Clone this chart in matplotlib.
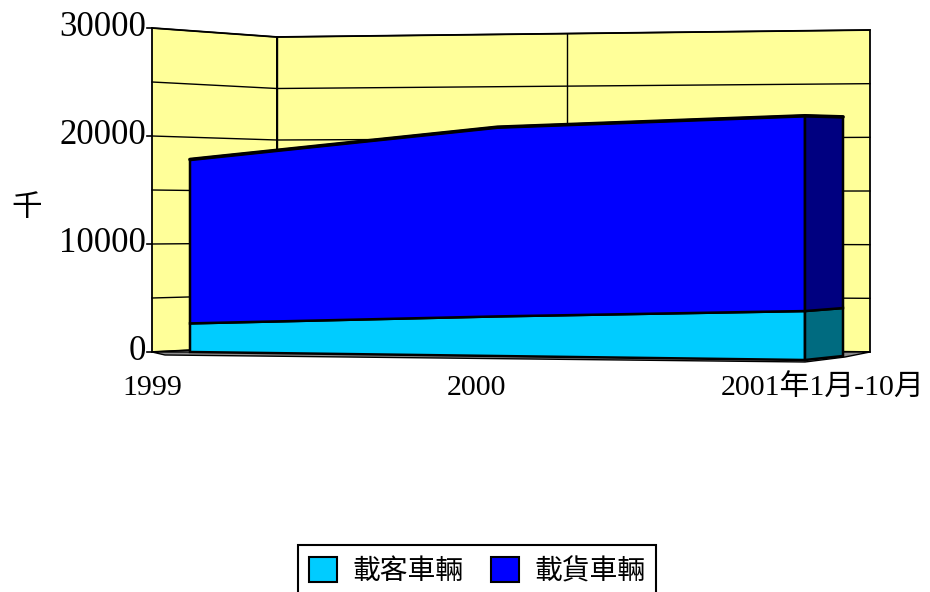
import matplotlib
matplotlib.use('Agg')
import matplotlib.pyplot as plt
from matplotlib.patches import Polygon, Patch
import numpy as np

# vehicle counts, thousands
categories = ['1999', '2000', '2001年1月-10月']
passenger = [2600, 3600, 4450]    # 載客車輛
freight = [14900, 17200, 17750]   # 載貨車輛
series_names = ['載客車輛', '載貨車輛']
y_ticks = [0, 10000, 20000, 30000]
y_max = 30000
grid_step = 5000
unit_label = '千'

FRONT_COLORS = ['#00CCFF', '#0000FF']
SIDE_COLORS = ['#006B80', '#000080']
WALL_COLOR = '#FFFF99'

SERIF = ['Liberation Serif', 'Noto Sans CJK TC']
SANS = ['Noto Sans CJK TC', 'DejaVu Sans']

# pseudo 3d geometry (canvas pixels)
WALL_X = [152, 277, 870]          # left edge, fold, right edge
WALL_BASE = [352, 346, 352]
WALL_SCALE = [324 / y_max, 309 / y_max, 322 / y_max]
FRONT_X0, FRONT_X1 = 190, 805
FRONT_BASE0, FRONT_BASE1 = 352, 360
FRONT_SCALE = 0.011
DEPTH_DX = 38
BACK_BASE_SHIFT = -4
BACK_SCALE = 0.01077


def wall(x, v):
    base = np.interp(x, WALL_X, WALL_BASE)
    scale = np.interp(x, WALL_X, WALL_SCALE)
    return base - v * scale


def front(i, v):
    t = i / (len(categories) - 1)
    x = FRONT_X0 + t * (FRONT_X1 - FRONT_X0)
    base = FRONT_BASE0 + t * (FRONT_BASE1 - FRONT_BASE0)
    return x, base - v * FRONT_SCALE


def back(i, v):
    x, base = front(i, 0)
    return x + DEPTH_DX, base + BACK_BASE_SHIFT - v * BACK_SCALE


fig = plt.figure(figsize=(9.3, 5.92), dpi=100)
ax = fig.add_axes([0, 0, 1, 1])
ax.set_xlim(0, 930)
ax.set_ylim(592, 0)
ax.axis('off')

# walls
for xa, xb in zip(WALL_X[:-1], WALL_X[1:]):
    pts = [(xa, wall(xa, 0)), (xa, wall(xa, y_max)),
           (xb, wall(xb, y_max)), (xb, wall(xb, 0))]
    ax.add_patch(Polygon(pts, closed=True, facecolor=WALL_COLOR,
                         edgecolor='black', lw=1.3, zorder=1))

for v in range(0, y_max + 1, grid_step):
    ax.plot(WALL_X, [wall(x, v) for x in WALL_X], color='black', lw=1, zorder=2)
for x in [277, 567]:
    ax.plot([x, x], [wall(x, 0), wall(x, y_max)], color='black', lw=1, zorder=2)

# floor
fx1, fy1 = front(len(categories) - 1, 0)
bx1, by1 = back(len(categories) - 1, 0)
floor = [(WALL_X[0], wall(WALL_X[0], 0)), (WALL_X[-1], wall(WALL_X[-1], 0)),
         (bx1 + 2, by1 + 1), (fx1, fy1 + 2), (165, FRONT_BASE0 + 3)]
ax.add_patch(Polygon(floor, closed=True, facecolor='#8C8C8C',
                     edgecolor='black', lw=1, zorder=3))

# y ticks and labels
for v in y_ticks:
    y = wall(WALL_X[0], v)
    ax.plot([WALL_X[0] - 5, WALL_X[0]], [y, y], color='black', lw=1.2, zorder=2)
    ax.text(WALL_X[0] - 6, y, f'{v}', ha='right', va='center',
            fontsize=25, family=SERIF, zorder=5)
ax.text(27, 208, unit_label, ha='center', va='center', fontsize=22,
        family=SANS)

# stacked area block
n = len(categories)
lower = np.zeros(n)
for k, vals in enumerate([passenger, freight]):
    upper = lower + np.array(vals)
    face = [front(i, upper[i]) for i in range(n)] + \
           [front(i, lower[i]) for i in reversed(range(n))]
    ax.add_patch(Polygon(face, closed=True, facecolor=FRONT_COLORS[k],
                         edgecolor='black', lw=1.8, zorder=4))
    j = n - 1
    side = [front(j, lower[j]), front(j, upper[j]),
            back(j, upper[j]), back(j, lower[j])]
    ax.add_patch(Polygon(side, closed=True, facecolor=SIDE_COLORS[k],
                         edgecolor='black', lw=1.8, zorder=4))
    lower = upper

top = [front(i, lower[i]) for i in range(n)] + [back(n - 1, lower[n - 1])]
ax.plot([p[0] for p in top], [p[1] for p in top], color='black', lw=2.6,
        zorder=5, solid_capstyle='round')

# category labels
for x, lab in zip([152, 476, 823], categories):
    ax.text(x, 388, lab, ha='center', va='center', fontsize=21.5,
            family=SERIF)

handles = [Patch(facecolor=c, edgecolor='black', lw=1.5) for c in FRONT_COLORS]
leg = ax.legend(handles, series_names, ncol=2, loc='upper left',
                bbox_to_anchor=(298 / 930, 1 - 545 / 592),
                bbox_transform=fig.transFigure, borderaxespad=0,
                prop={'family': SANS, 'size': 20}, handlelength=1.0,
                handleheight=1.0, handletextpad=0.55, columnspacing=1.0,
                borderpad=0.4, fancybox=False, framealpha=1)
leg.get_frame().set_edgecolor('black')
leg.get_frame().set_linewidth(1.5)

fig.savefig('out.png', dpi=100)
